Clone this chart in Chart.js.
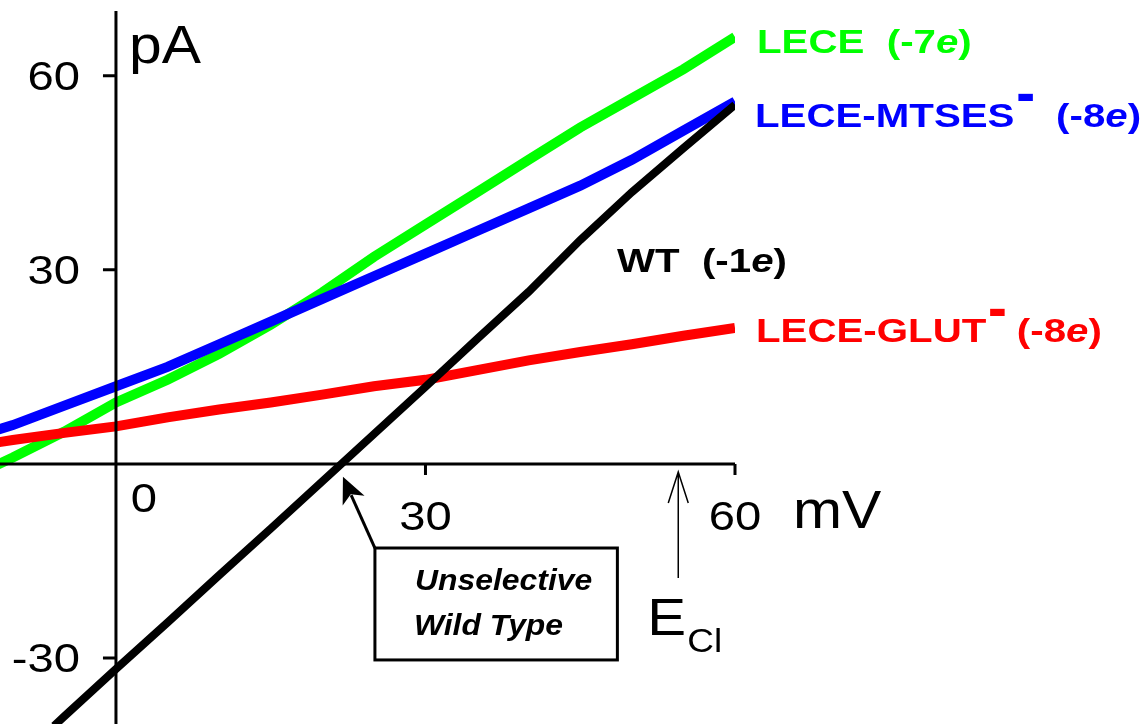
<!DOCTYPE html>
<html>
<head>
<meta charset="utf-8">
<script src="https://cdn.jsdelivr.net/npm/chart.js@4.4.1/dist/chart.umd.min.js"></script>
<style>
  html, body { margin: 0; padding: 0; background: #fff; }
  canvas { display: block; }
</style>
</head>
<body>
<canvas id="myChart" width="1148" height="724"></canvas>
<script>
// membrane potential (mV) and current (pA)
var voltage   = [-12, -10, -5, 0, 5, 10, 15, 20, 25, 30, 35, 40, 45, 50, 55, 60];
var lece      = [-0.5, 1, 5, 9.5, 13, 17, 21.5, 26.5, 32, 37, 42, 47, 52, 56.5, 61, 66];
var leceMtses = [5, 6, 9, 12, 15, 18.5, 22, 25.5, 29, 32.5, 36, 39.5, 43, 47, 51.5, 56];
var leceGlut  = [3.2, 3.7, 4.8, 5.8, 7.2, 8.4, 9.5, 10.7, 12, 13, 14.5, 16, 17.3, 18.5, 19.8, 21];
var wtVoltage = [-6, -5, 0, 5, 10, 15, 20, 25, 30, 35, 40, 45, 50, 55, 60];
var wt        = [-40.5, -39, -31.7, -24.5, -17.2, -10, -2.7, 4.6, 11.9, 19.3, 26.6, 34.6, 42, 48.8, 55.5];

var xTicks = [0, 30, 60];
var yTicks = [60, 30, -30];
var xRange = [-11.24, 60];
var yRange = [-40.2, 71.7];
var yAxisTop = 70;
var eCl = 54.5;           // chloride reversal potential
var wtZero = [22, -2];    // where the arrow points (mV, pA)
var boxCorners = [25.1, -13, 48.6, -30.3];

var FONT = '"Liberation Sans", Arial, sans-serif';

function pts(xs, ys) {
  return xs.map(function (x, i) { return { x: x, y: ys[i] }; });
}

// draws a row of text pieces: [text, style]
function runs(c, parts, x, y, size, color, sx) {
  c.save();
  c.fillStyle = color;
  c.textBaseline = 'alphabetic';
  c.textAlign = 'left';
  c.translate(x, y);
  c.scale(sx, 1);
  var cx = 0;
  parts.forEach(function (p) {
    c.font = (p[1] || '') + ' ' + size + 'px ' + FONT;
    c.fillText(p[0], cx, 0);
    cx += c.measureText(p[0]).width;
  });
  c.restore();
  return x + cx * sx;
}

function supDash(c, x, y, color) {
  c.save();
  c.fillStyle = color;
  c.font = 'bold 24px ' + FONT;
  c.translate(x, y);
  c.scale(1.22, 3);
  c.fillText('\u2013', 0, 0);
  var w = c.measureText('\u2013').width * 1.22;
  c.restore();
  return x + w;
}

var overlay = {
  id: 'overlay',
  afterDatasetsDraw: function (chart) {
    var c = chart.ctx, xs = chart.scales.x, ys = chart.scales.y, area = chart.chartArea;
    var x0 = xs.getPixelForValue(0), y0 = ys.getPixelForValue(0);

    // axes
    c.save();
    c.strokeStyle = '#000';
    c.lineWidth = 3;
    c.beginPath();
    c.moveTo(x0, ys.getPixelForValue(yAxisTop));
    c.lineTo(x0, area.bottom);
    c.moveTo(area.left, y0);
    c.lineTo(xs.getPixelForValue(60), y0);
    yTicks.forEach(function (v) {
      var p = ys.getPixelForValue(v);
      c.moveTo(x0 - 13, p); c.lineTo(x0, p);
    });
    xTicks.forEach(function (v) {
      if (v === 0) return;
      var p = xs.getPixelForValue(v);
      c.moveTo(p, y0); c.lineTo(p, y0 + 11);
    });
    c.stroke();
    c.restore();

    // tick labels
    c.save();
    c.font = '40px ' + FONT;
    var sx = 1.18;
    yTicks.forEach(function (v) {
      var s = String(v), w = c.measureText(s).width * sx;
      runs(c, [[s]], x0 - 36 - w, ys.getPixelForValue(v) + 14, 40, '#000', sx);
    });
    xTicks.forEach(function (v) {
      var s = String(v), w = c.measureText(s).width * sx;
      if (v === 0) {
        runs(c, [[s]], x0 + 28 - w / 2, y0 + 48, 40, '#000', sx);
      } else {
        runs(c, [[s]], xs.getPixelForValue(v) - w / 2, y0 + 66, 40, '#000', sx);
      }
    });
    c.restore();

    // units
    runs(c, [['pA']], x0 + 13, 63, 53, '#000', 1.11);
    runs(c, [['mV']], xs.getPixelForValue(60) + 58, y0 + 64, 53, '#000', 1.11);

    // E_Cl arrow
    var ex = xs.getPixelForValue(eCl);
    c.save();
    c.strokeStyle = '#000';
    c.lineWidth = 1.5;
    c.beginPath();
    c.moveTo(ex, y0 + 114); c.lineTo(ex, y0 + 8);
    c.moveTo(ex - 10, y0 + 39); c.lineTo(ex, y0 + 8); c.lineTo(ex + 10, y0 + 39);
    c.stroke();
    c.restore();
    runs(c, [['E']], ex - 31, y0 + 171, 52, '#000', 1.12);
    runs(c, [['Cl']], ex + 9, y0 + 188, 33, '#000', 1.12);

    // unselective wild type box + pointer
    var bx1 = xs.getPixelForValue(boxCorners[0]), by1 = ys.getPixelForValue(boxCorners[1]);
    var bx2 = xs.getPixelForValue(boxCorners[2]), by2 = ys.getPixelForValue(boxCorners[3]);
    var tx = xs.getPixelForValue(wtZero[0]), ty = ys.getPixelForValue(wtZero[1]);
    c.save();
    c.fillStyle = '#fff';
    c.fillRect(bx1, by1, bx2 - bx1, by2 - by1);
    c.strokeStyle = '#000';
    c.lineWidth = 3;
    c.strokeRect(bx1, by1, bx2 - bx1, by2 - by1);
    var dx = bx1 - tx, dy = by1 - ty, len = Math.sqrt(dx * dx + dy * dy);
    var ux = dx / len, uy = dy / len;
    c.beginPath();
    c.moveTo(bx1, by1);
    c.lineTo(tx + ux * 20, ty + uy * 20);
    c.stroke();
    c.beginPath();
    c.fillStyle = '#000';
    c.moveTo(tx, ty);
    c.lineTo(tx + ux * 26 - uy * 12, ty + uy * 26 + ux * 12);
    c.lineTo(tx + ux * 19, ty + uy * 19);
    c.lineTo(tx + ux * 26 + uy * 12, ty + uy * 26 - ux * 12);
    c.closePath();
    c.fill();
    c.restore();
    runs(c, [['Unselective', 'italic bold']], bx1 + 40, by1 + 42, 29, '#000', 1.1);
    runs(c, [['Wild Type', 'italic bold']], bx1 + 39, by1 + 87, 29, '#000', 1.1);

    // series labels
    var lx = xs.getPixelForValue(60);
    runs(c, [['LECE  (-7', 'bold'], ['e', 'italic bold'], [')', 'bold']], lx + 22, 53, 33, '#00ff00', 1.22);

    var e1 = runs(c, [['LECE-MTSES', 'bold']], lx + 20, 127, 33, '#0000ff', 1.22);
    var e2 = supDash(c, e1 + 3, 117, '#0000ff');
    runs(c, [['  (-8', 'bold'], ['e', 'italic bold'], [')', 'bold']], e2, 127, 33, '#0000ff', 1.22);

    runs(c, [['WT  (-1', 'bold'], ['e', 'italic bold'], [')', 'bold']], lx - 118, 272, 33, '#000', 1.22);

    var r1 = runs(c, [['LECE-GLUT', 'bold']], lx + 21, 342, 33, '#ff0000', 1.22);
    var r2 = supDash(c, r1 + 3, 332, '#ff0000');
    runs(c, [[' (-8', 'bold'], ['e', 'italic bold'], [')', 'bold']], r2, 342, 33, '#ff0000', 1.22);
  }
};

var ctx = document.getElementById('myChart').getContext('2d');
var myChart = new Chart(ctx, {
  type: 'line',
  data: {
    datasets: [{
        label: 'WT (-1e)',
        data: pts(wtVoltage, wt),
        borderColor: '#000000',
        borderWidth: 8
      }, {
        label: 'LECE-GLUT- (-8e)',
        data: pts(voltage, leceGlut),
        borderColor: '#ff0000',
        borderWidth: 10
      }, {
        label: 'LECE-MTSES- (-8e)',
        data: pts(voltage, leceMtses),
        borderColor: '#0000ff',
        borderWidth: 10
      }, {
        label: 'LECE (-7e)',
        data: pts(voltage, lece),
        borderColor: '#00ff00',
        borderWidth: 10
      }
    ]
  },
  options: {
    responsive: false,
    animation: false,
    layout: { padding: { left: 0, right: 413, top: 0, bottom: 0 } },
    elements: { point: { radius: 0 }, line: { tension: 0, fill: false } },
    plugins: { legend: { display: false }, tooltip: { enabled: false } },
    scales: {
      x: { type: 'linear', min: xRange[0], max: xRange[1], display: false },
      y: { type: 'linear', min: yRange[0], max: yRange[1], display: false }
    }
  },
  plugins: [overlay]
});
</script>
</body>
</html>
